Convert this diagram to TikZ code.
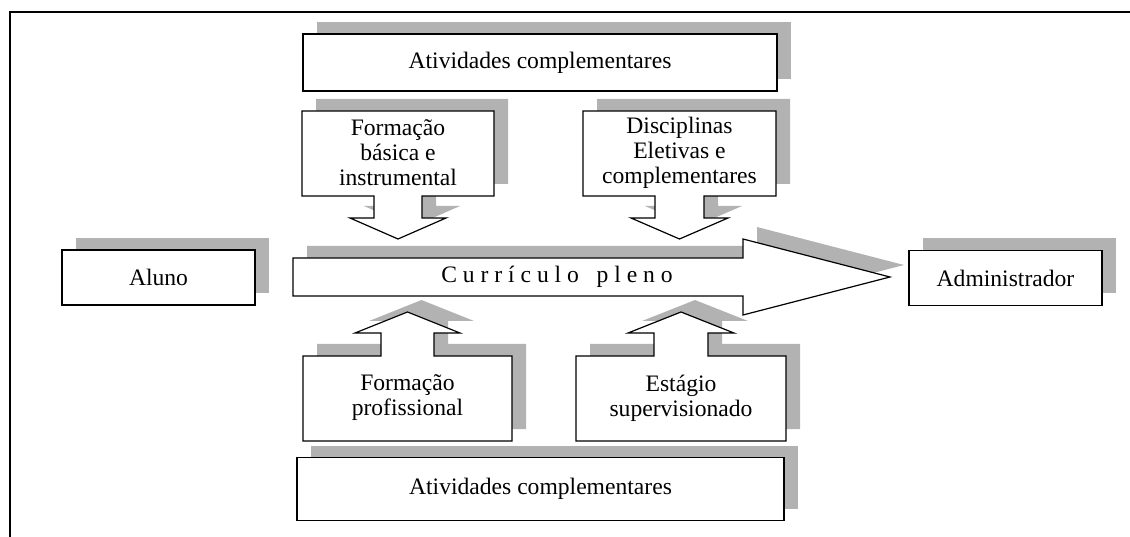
\documentclass[tikz,border=0pt]{standalone}
\usepackage{fontspec}
\setmainfont{Liberation Serif}
\usetikzlibrary{shadows}
\tikzstyle{box} = [draw=black, 
line width=1.2pt, 
fill=white, 
drop shadow={shadow xshift=14pt, shadow yshift=12pt, fill=black!30, opacity=1}]
\tikzstyle{txt} = [font=\fontsize{23.6}{25}\selectfont, 
align=center]
\tikzstyle{wide} = [box, txt, 
minimum width=474pt, 
minimum height=57pt]
\tikzstyle{side} = [box, txt, 
minimum width=193pt, 
minimum height=55pt]

\begin{document}
\begin{tikzpicture}[x=1pt, y=-1pt]
	\useasboundingbox (0,0) rectangle (1130,537);
	\draw [line width=1.8pt] (10,537) -- (10,12) -- (1130,12);

	\node (ativ_top) [wide] at (540,62.5) {Atividades complementares};
	\node (aluno) [side] at (158.5,277.5) {Aluno};
	\node (admin) [side] at (1005.5,278) {Administrador};

	% callouts pointing down
	\draw [box] (302,111) -- (494,111) -- (494,196) -- (422,196) -- (422,218) -- (446,218)
		-- (398,239) -- (350,218) -- (374,218) -- (374,196) -- (302,196) -- cycle;
	\draw [box] (583,111) -- (776,111) -- (776,196) -- (704,196) -- (704,218) -- (728,218)
		-- (679.5,239) -- (631,218) -- (655,218) -- (655,196) -- (583,196) -- cycle;
	\node (basica) [txt] at (398,153) {Formação\\básica e\\instrumental};
	\node (eletivas) [txt] at (679.5,153) {Disciplinas\\Eletivas e\\complementares};

	% main arrow
	\draw [box] (293,258) -- (743,258) -- (743,239) -- (890,277) -- (743,315) -- (743,296)
		-- (293,296) -- cycle;
	\node (curriculo) [txt] at (557,277) {C u r r í c u l o \ \ p l e n o};

	% callouts pointing up
	\draw [box] (303,441) -- (303,356) -- (381,356) -- (381,333) -- (355,333) -- (407.5,312)
		-- (460,333) -- (434,333) -- (434,356) -- (512,356) -- (512,441) -- cycle;
	\draw [box] (576,441) -- (576,356) -- (654,356) -- (654,333) -- (628,333) -- (681,312)
		-- (734,333) -- (708,333) -- (708,356) -- (786,356) -- (786,441) -- cycle;
	\node (profissional) [txt] at (407.5,398) {Formação\\profissional};
	\node (estagio) [txt] at (681,398) {Estágio\\supervisionado};

	\node (ativ_bottom) [wide, minimum width=487pt, minimum height=63pt] at (540.5,489) {Atividades complementares};
\end{tikzpicture}
\end{document}
